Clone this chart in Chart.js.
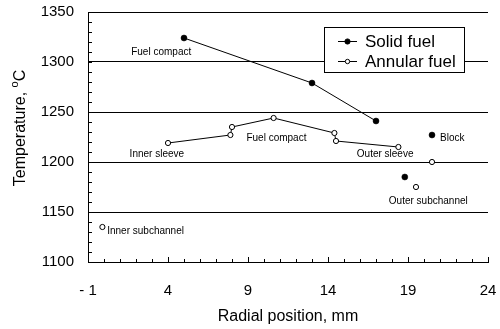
<!DOCTYPE html>
<html>
<head>
<meta charset="utf-8">
<script src="https://cdn.jsdelivr.net/npm/chart.js@4"></script>
<style>
  html, body { margin: 0; padding: 0; background: #fff; }
  #wrap { width: 500px; height: 329px; position: relative; }
</style>
</head>
<body>
<div id="wrap"><canvas id="tempChart"></canvas></div>
<script>
// radial position (mm) and temperature (C)
const solidX = [5, 13, 17];
const solidY = [1324, 1279, 1241];
const solidExtraX = [20.5, 18.8];
const solidExtraY = [1227, 1185];

const annularX = [4, 7.9, 8, 10.6, 14.4, 14.5, 18.4];
const annularY = [1219, 1227, 1235, 1244, 1229, 1221, 1215];
const annularExtraX = [20.5, 19.5, -0.1];
const annularExtraY = [1200, 1175, 1135];

const xTicks = [-1, 4, 9, 14, 19, 24];
const yTicks = [1100, 1150, 1200, 1250, 1300, 1350];

const notes = [
  { text: 'Fuel compact', x: 1.7, y: 1310 },
  { text: 'Fuel compact', x: 8.9, y: 1224 },
  { text: 'Inner sleeve', x: 1.6, y: 1208 },
  { text: 'Inner subchannel', x: 0.2, y: 1131 },
  { text: 'Block', x: 21.0, y: 1224 },
  { text: 'Outer sleeve', x: 15.8, y: 1208 },
  { text: 'Outer subchannel', x: 17.8, y: 1161 }
];

const FONT = "'Liberation Sans', Arial, sans-serif";

function pts(xs, ys) {
  return xs.map((x, i) => ({ x, y: ys[i] }));
}

const solidStyle = {
  borderColor: '#000', borderWidth: 1, pointRadius: 3,
  pointBackgroundColor: '#000', pointBorderColor: '#000', pointBorderWidth: 0.5
};
const annularStyle = {
  borderColor: '#000', borderWidth: 1, pointRadius: 2.6,
  pointBackgroundColor: '#fff', pointBorderColor: '#000', pointBorderWidth: 1
};

function noOverflow(scale) {
  scale.paddingLeft = 0;
  scale.paddingRight = 0;
  scale.paddingTop = 0;
  scale.paddingBottom = 0;
}

// tick marks inside the plot, notes, legend box, y title
const decorPlugin = {
  id: 'decor',
  afterDatasetsDraw(chart) {
    const { ctx, chartArea: a, scales: { x, y } } = chart;
    ctx.save();
    ctx.strokeStyle = '#000';
    ctx.lineWidth = 1;
    ctx.beginPath();
    for (let v = -1; v <= 24; v++) {
      const px = Math.round(x.getPixelForValue(v)) + 0.5;
      const len = (v + 1) % 5 === 0 ? 5 : 3;
      ctx.moveTo(px, a.bottom);
      ctx.lineTo(px, a.bottom - len);
    }
    for (let v = 1100; v <= 1350; v += 10) {
      const py = Math.round(y.getPixelForValue(v)) + 0.5;
      ctx.moveTo(a.left, py);
      ctx.lineTo(a.left + 4, py);
    }
    ctx.stroke();

    ctx.fillStyle = '#000';
    ctx.font = '10px ' + FONT;
    ctx.textBaseline = 'middle';
    ctx.textAlign = 'left';
    notes.forEach((n) => {
      ctx.fillText(n.text, x.getPixelForValue(n.x), y.getPixelForValue(n.y));
    });

    // legend
    const lx = 324.5, ly = 27.5, lw = 140, lh = 45;
    ctx.fillStyle = '#fff';
    ctx.fillRect(lx, ly, lw, lh);
    ctx.strokeRect(lx, ly, lw, lh);
    const rows = [
      { label: 'Solid fuel', fill: '#000', r: 2.6, cy: 41.5 },
      { label: 'Annular fuel', fill: '#fff', r: 2.2, cy: 61.5 }
    ];
    rows.forEach((row) => {
      ctx.beginPath();
      ctx.moveTo(338, row.cy);
      ctx.lineTo(357, row.cy);
      ctx.stroke();
      ctx.beginPath();
      ctx.arc(347.5, row.cy, row.r, 0, Math.PI * 2);
      ctx.fillStyle = row.fill;
      ctx.fill();
      ctx.stroke();
      ctx.fillStyle = '#000';
      ctx.font = '17px ' + FONT;
      ctx.fillText(row.label, 365, row.cy + 1);
    });

    // y axis title with superscript o
    ctx.translate(21, 128);
    ctx.rotate(-Math.PI / 2);
    ctx.font = '16px ' + FONT;
    const main = 'Temperature, ';
    const w1 = ctx.measureText(main).width;
    ctx.font = '11px ' + FONT;
    const w2 = ctx.measureText('o').width;
    ctx.font = '16px ' + FONT;
    const w3 = ctx.measureText('C').width;
    const sx = -(w1 + w2 + w3) / 2;
    ctx.fillText(main, sx, 0);
    ctx.font = '11px ' + FONT;
    ctx.fillText('o', sx + w1, -6);
    ctx.font = '16px ' + FONT;
    ctx.fillText('C', sx + w1 + w2, 0);
    ctx.restore();
  }
};

new Chart(document.getElementById('tempChart'), {
  type: 'scatter',
  data: {
    datasets: [
      { data: pts(solidX, solidY), showLine: true, ...solidStyle },
      { data: pts(solidExtraX, solidExtraY), showLine: false, ...solidStyle },
      { data: pts(annularX, annularY), showLine: true, ...annularStyle },
      { data: pts(annularExtraX, annularExtraY), showLine: false, ...annularStyle }
    ]
  },
  options: {
    responsive: true,
    maintainAspectRatio: false,
    animation: false,
    layout: { padding: { top: 12, right: 12, left: 0, bottom: 0 } },
    plugins: { legend: { display: false }, tooltip: { enabled: false } },
    scales: {
      x: {
        type: 'linear',
        min: -1,
        max: 24,
        afterBuildTicks: (scale) => { scale.ticks = xTicks.map((v) => ({ value: v })); },
        afterFit: (scale) => { scale.height = 67; noOverflow(scale); },
        grid: { display: false, drawTicks: false },
        border: { display: true, color: '#000', width: 1 },
        ticks: {
          color: '#000',
          padding: 20,
          font: { family: FONT, size: 15 },
          callback: (v) => (v === -1 ? '- 1' : String(v))
        },
        title: {
          display: true,
          text: 'Radial position, mm',
          color: '#000',
          font: { family: FONT, size: 16 },
          padding: { top: 0, bottom: 3 }
        }
      },
      y: {
        type: 'linear',
        min: 1100,
        max: 1350,
        afterBuildTicks: (scale) => { scale.ticks = yTicks.map((v) => ({ value: v })); },
        afterFit: (scale) => { scale.width = 88; noOverflow(scale); },
        grid: { color: '#000', lineWidth: 1, drawTicks: false },
        border: { display: true, color: '#000', width: 1 },
        ticks: {
          color: '#000',
          padding: 14,
          font: { family: FONT, size: 15 },
          callback: (v) => String(v)
        }
      }
    }
  },
  plugins: [decorPlugin]
});
</script>
</body>
</html>
